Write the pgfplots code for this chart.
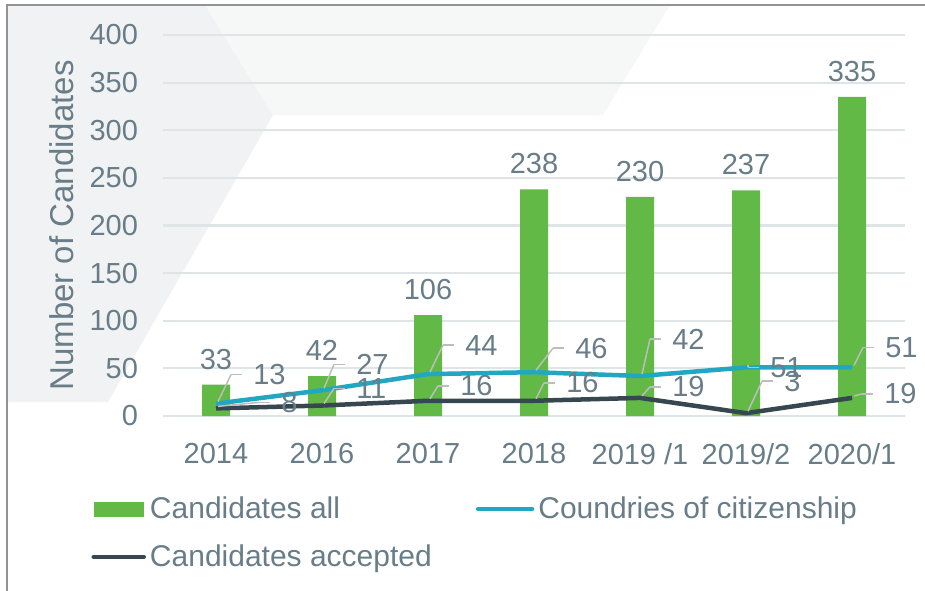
\documentclass[border=0pt]{standalone}
\usepackage{pgfplots}
\pgfplotsset{compat=1.18}
\usepackage{pgfplotstable}
\usepackage{fontspec}
\setmainfont{Liberation Sans}

\definecolor{barg}{HTML}{62B946}
\definecolor{lineb}{HTML}{22A7C3}
\definecolor{lined}{HTML}{37474F}
\definecolor{labc}{HTML}{687D87}
\definecolor{gridc}{HTML}{DFE4E7}
\definecolor{leadc}{HTML}{BDBDBD}
\definecolor{bgdark}{HTML}{F1F2F3}
\definecolor{bglight}{HTML}{F6F7F7}

% values; dx / rise = label offset from the point (px)
\pgfplotstableread{
x y
0 33
1 42
2 106
3 238
4 230
5 237
6 335
}\allcand

\pgfplotstableread{
x y dx rise
0 13 35 29
1 27 32 26
2 44 35 29
3 46 39 24
4 42 30 37
5 51 22 0
6 51 31 20
}\countries

\pgfplotstableread{
x y dx rise
0 8 63 6
1 11 32 17
2 16 30 15
3 16 30 18
4 19 30 11
5 3 36 32
6 19 30 4
}\accepted

\newcommand{\fs}{\fontsize{14.5}{17}\selectfont}
\tikzset{leader/.style={draw=leadc, line width=0.75pt}}

\pgfplotsset{
  leaderlabels/.style={
    nodes near coords,
    visualization depends on={\thisrow{dx} \as \ldx},
    visualization depends on={\thisrow{rise} \as \lrise},
    every node near coord/.append style={
      anchor=west, inner sep=0pt,
      xshift={0.5pt*\ldx}, yshift={0.5pt*\lrise},
      append after command={
        ([xshift=-4.5pt]\tikzlastnode.west) edge[leader] ([xshift=-10pt]\tikzlastnode.west)
        ([xshift=-10pt]\tikzlastnode.west) edge[leader] ([xshift={1pt-0.5pt*\ldx}, yshift={1pt-0.5pt*\lrise}]\tikzlastnode.west)
      },
    },
  },
}

\begin{document}
\begin{tikzpicture}
\useasboundingbox (-81.5pt,-87pt) rectangle (381pt,208pt);
\fill[bgdark] (-78pt,205.5pt) -- (21pt,205.5pt) -- (55pt,150.5pt) -- (-27.5pt,7pt) -- (-78pt,7pt) -- cycle;
\fill[bglight] (21pt,205.5pt) -- (253.5pt,205.5pt) -- (220pt,150.5pt) -- (55pt,150.5pt) -- cycle;
\draw[gray!85, line width=0.6pt] (-78pt,-90pt) -- (-78pt,205.5pt) -- (385pt,205.5pt);
\begin{axis}[
  scale only axis, width=371pt, height=190.5pt,
  xmin=-0.5, xmax=6.5, ymin=0, ymax=400,
  clip=false,
  axis line style={draw=none},
  major tick length=0pt,
  ymajorgrids, grid style={gridc, line width=1.1pt},
  xtick={0,...,6},
  xticklabels={2014,2016,2017,2018,2019 /1,2019/2,2020/1},
  ytick={0,50,...,400},
  /pgf/number format/assume math mode=true,
  tick label style={font=\fs, text=labc},
  xticklabel style={yshift=-10pt},
  yticklabel style={xshift=-9pt},
  ylabel={Number of Candidates},
  ylabel style={at={(axis description cs:-0.136,0.5)}, anchor=center,
    font=\fontsize{16.5}{19}\selectfont, text=labc},
  every node near coord/.append style={font=\fs, text=labc},
  legend columns=2,
  legend cell align=left,
  legend style={at={(axis description cs:-0.105,-0.19)}, anchor=north west,
    draw=none, fill=none, font=\fontsize{15}{17.5}\selectfont, text=labc, row sep=7.5pt,
    /tikz/every even column/.append style={column sep=20pt}},
]
\addplot[ybar, bar width=14pt, fill=barg, draw=none,
  nodes near coords, every node near coord/.append style={yshift=4pt},
  legend image code/.code={\fill[barg] (0pt,-3.75pt) rectangle (25pt,3.75pt);}]
  table[x=x, y=y] {\allcand};
\addlegendentry{Candidates all}

\addplot[lineb, line width=2.25pt, line join=round, leaderlabels,
  legend image code/.code={\draw[lineb, line width=2.25pt, line cap=round] (0pt,0pt) -- (27pt,0pt);}]
  table[x=x, y=y] {\countries};
\addlegendentry{Coundries of citizenship}

\addplot[lined, line width=2.25pt, line join=round, leaderlabels,
  legend image code/.code={\draw[lined, line width=2.25pt, line cap=round] (0pt,0pt) -- (25pt,0pt);}]
  table[x=x, y=y] {\accepted};
\addlegendentry{Candidates accepted}
\end{axis}
\end{tikzpicture}
\end{document}
